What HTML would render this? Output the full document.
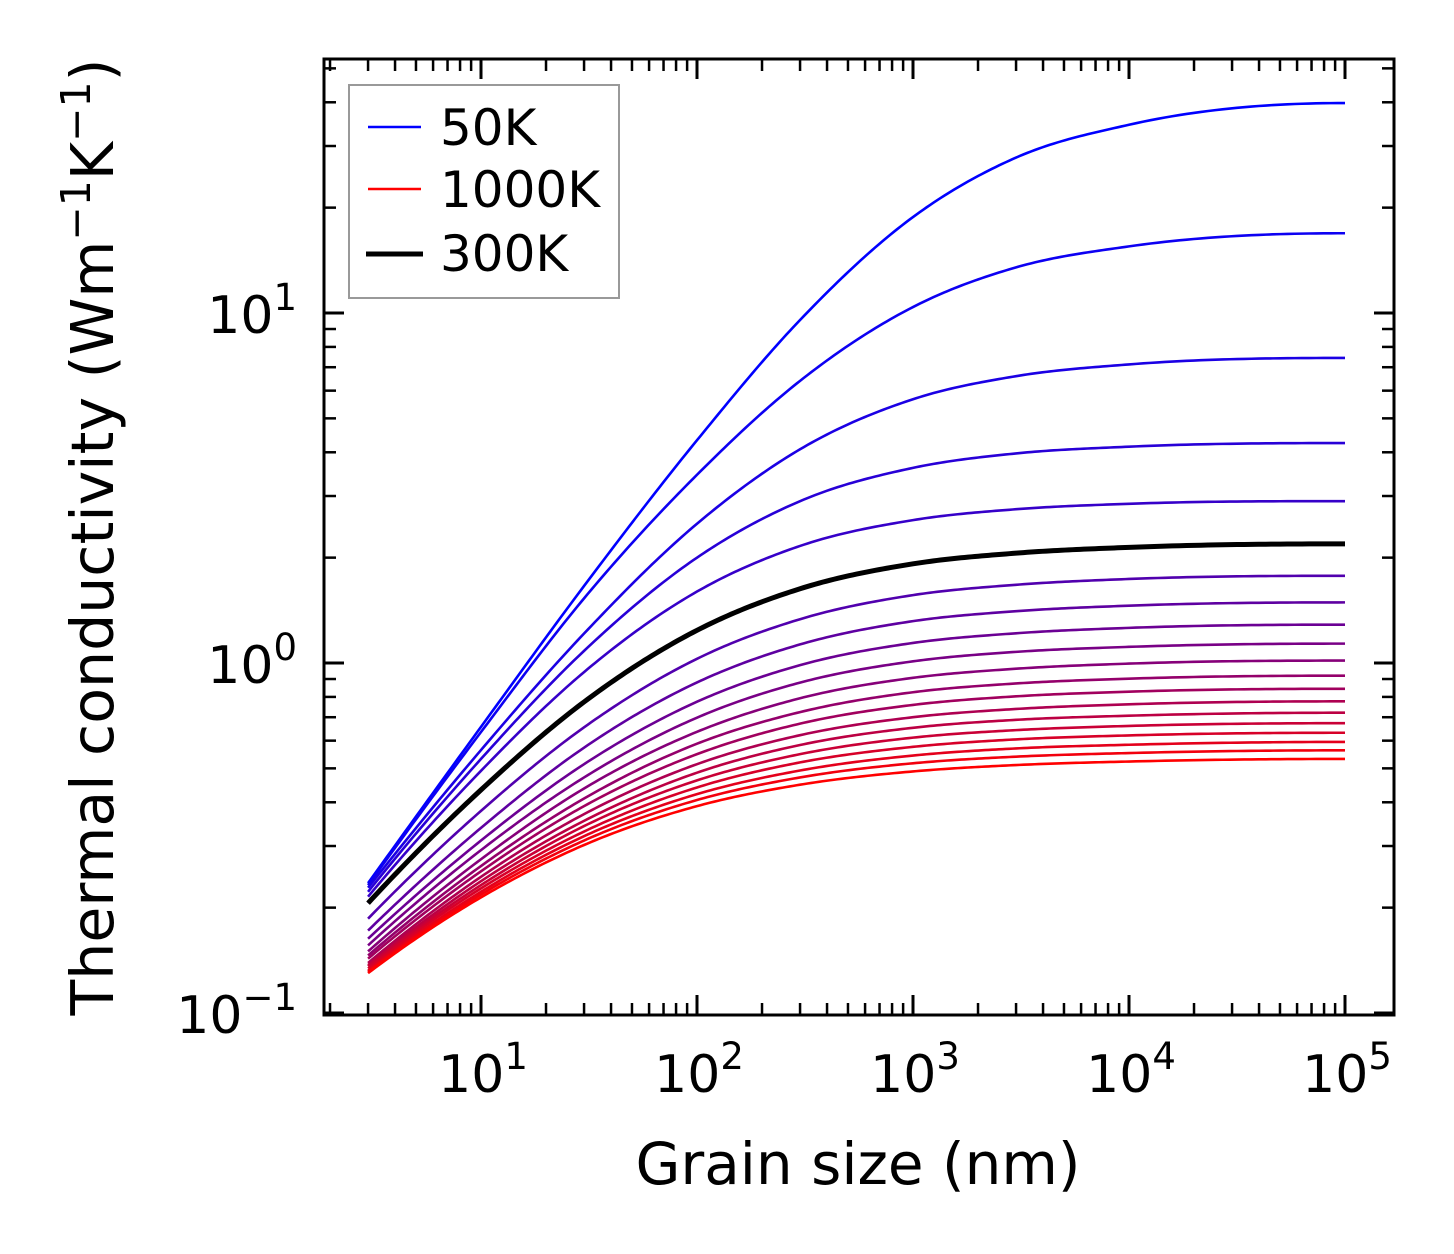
<!DOCTYPE html>
<html><head><meta charset="utf-8"><style>
html,body{margin:0;padding:0;background:#fff}
svg{display:block;font-family:"DejaVu Sans","Liberation Sans",sans-serif}
</style></head><body>
<svg id="chart" width="1454" height="1254" viewBox="0 0 1454 1254" xmlns="http://www.w3.org/2000/svg">
<rect x="0" y="0" width="1454" height="1254" fill="#fff"/>
<g id="curves"></g>
<g id="ticks"></g>
<rect x="324" y="59" width="1070" height="956" fill="none" stroke="#000" stroke-width="3"/>
<g id="labels" font-size="52" fill="#000"></g>
<text x="858" y="1184" font-size="58" text-anchor="middle">Grain size (nm)</text>
<text transform="translate(113,537) rotate(-90)" font-size="58.5" text-anchor="middle">Thermal conductivity (Wm<tspan dy="-23" font-size="41">−1</tspan><tspan dy="23">K</tspan><tspan dy="-23" font-size="41">−1</tspan><tspan dy="23">)</tspan></text>
<g>
<rect x="349" y="85" width="270" height="213" fill="#fff" stroke="#999" stroke-width="2"/>
<line x1="368" y1="127" x2="421" y2="127" stroke="#0000ff" stroke-width="2.5"/>
<text x="440" y="145" font-size="50">50K</text>
<line x1="368" y1="189" x2="421" y2="189" stroke="#ff0000" stroke-width="2.5"/>
<text x="440" y="207" font-size="50">1000K</text>
<line x1="366" y1="254" x2="423" y2="254" stroke="#000" stroke-width="5"/>
<text x="440" y="271" font-size="50">300K</text>
</g>
</svg>
<script>
// Data
const grainSizes = [3, 10, 30, 100, 300, 1000, 3000, 10000, 100000];
const temperatures = [50,100,150,200,250,300,350,400,450,500,550,600,650,700,750,800,850,900,950,1000];
const k50   = [0.235,0.657,1.66,4.33,9.55,18.8,27.8,34.5,39.8];
const k100  = [0.232,0.635,1.53,3.45,6.4,10.4,13.5,15.5,16.9];
const k150  = [0.228,0.564,1.214,2.5,4.08,5.67,6.6,7.13,7.44];
const k200  = [0.222,0.532,1.083,2.0,2.90,3.61,3.97,4.15,4.25];
const k250  = [0.215,0.492,0.942,1.60,2.16,2.56,2.75,2.85,2.90];
const k300  = [0.206,0.434,0.774,1.24,1.63,1.92,2.06,2.14,2.19];
const k350  = [0.186,0.378,0.655,1.028,1.334,1.563,1.673,1.738,1.775];
const k400  = [0.172,0.338,0.573,0.880,1.130,1.317,1.406,1.458,1.490];
const k450  = [0.163,0.311,0.514,0.775,0.986,1.141,1.216,1.260,1.287];
const k500  = [0.156,0.292,0.471,0.698,0.879,1.011,1.076,1.112,1.136];
const k550  = [0.150,0.275,0.438,0.636,0.793,0.907,0.963,0.996,1.016];
const k600  = [0.146,0.263,0.410,0.588,0.724,0.825,0.874,0.902,0.920];
const k650  = [0.143,0.254,0.390,0.549,0.671,0.759,0.803,0.828,0.844];
const k700  = [0.139,0.245,0.370,0.514,0.622,0.700,0.739,0.762,0.777];
const k750  = [0.137,0.238,0.354,0.486,0.583,0.653,0.688,0.707,0.721];
const k800  = [0.136,0.232,0.342,0.462,0.549,0.612,0.643,0.661,0.673];
const k850  = [0.134,0.227,0.330,0.441,0.520,0.576,0.605,0.621,0.632];
const k900  = [0.132,0.222,0.320,0.422,0.493,0.544,0.570,0.584,0.595];
const k950  = [0.131,0.218,0.311,0.406,0.471,0.517,0.540,0.553,0.563];
const k1000 = [0.130,0.214,0.302,0.390,0.449,0.490,0.511,0.523,0.532];
const series = [k50,k100,k150,k200,k250,k300,k350,k400,k450,k500,k550,k600,k650,k700,k750,k800,k850,k900,k950,k1000];
const highlightTemp = 300;
const xTickExps = [1,2,3,4,5];
const yTickExps = [-1,0,1];

// Axes
const X0=481, XD=216, Y0=663, YD=350;
const xPos = v => X0 + (Math.log10(v)-1)*XD;
const yPos = v => Y0 - Math.log10(v)*YD;
const NS="http://www.w3.org/2000/svg";
function mk(tag, attrs){const e=document.createElementNS(NS,tag);for(const k in attrs)e.setAttribute(k,attrs[k]);return e;}

// smooth cubic Hermite in log-log space with weighted 3-point tangents
function smoothPath(xs, ys){
  const lx=xs.map(Math.log10), ly=ys.map(Math.log10), n=lx.length;
  const d=[],h=[],m=new Array(n);
  for(let i=0;i<n-1;i++){ h.push(lx[i+1]-lx[i]); d.push((ly[i+1]-ly[i])/h[i]); }
  for(let i=1;i<n-1;i++){ m[i]=(h[i]*d[i-1]+h[i-1]*d[i])/(h[i-1]+h[i]); }
  m[0]=2*d[0]-m[1]; if(m[0]<0) m[0]=d[0];
  m[n-1]=Math.max(0,2*d[n-2]-m[n-2]);
  let p="";
  for(let i=0;i<n-1;i++){
    const hh=h[i];
    for(let j=0;j<=30;j++){
      if(i>0&&j===0) continue;
      const t=j/30,t2=t*t,t3=t2*t;
      const y=(2*t3-3*t2+1)*ly[i]+(t3-2*t2+t)*hh*m[i]+(-2*t3+3*t2)*ly[i+1]+(t3-t2)*hh*m[i+1];
      const x=lx[i]+t*hh;
      p+=(p?"L":"M")+(X0+(x-1)*XD).toFixed(2)+","+(Y0-y*YD).toFixed(2);
    }
  }
  return p;
}

const cg=document.getElementById('curves');
series.forEach((vals,i)=>{
  const f=i/(series.length-1);
  const col=`rgb(${Math.round(255*f)},0,${Math.round(255*(1-f))})`;
  const el=mk('path',{d:smoothPath(grainSizes,vals),fill:'none',stroke:col,'stroke-width':2.6});
  
  
  cg.appendChild(el);
});
const hi=temperatures.indexOf(highlightTemp);
const hl=mk('path',{d:smoothPath(grainSizes,series[hi]),fill:'none',stroke:'#000','stroke-width':5});


cg.appendChild(hl);

// ticks
const tg=document.getElementById('ticks');
const L=324,R=1394,T=59,B=1015;
function tick(x1,y1,x2,y2,w){const e=mk('line',{x1,y1,x2,y2,stroke:'#000','stroke-width':w});
  
  
  tg.appendChild(e);}
for(let e=0;e<=5;e++){for(let k=1;k<=9;k++){const x=xPos(k*Math.pow(10,e));if(x<L+2||x>R-2)continue;
  const len=k===1?20:12,w=k===1?3:2.5;tick(x,B,x,B-len,w);tick(x,T,x,T+len,w);}}
for(let e=-2;e<=1;e++){for(let k=1;k<=9;k++){const y=yPos(k*Math.pow(10,e));if(y<T+2||y>B-1)continue;
  const len=k===1?20:12,w=k===1?3:2.5;tick(L,y,L+len,y,w);tick(R,y,R-len,y,w);}}
tick(L,yPos(0.1),L+20,yPos(0.1),3);tick(R,yPos(0.1),R-20,yPos(0.1),3);

const lg=document.getElementById('labels');
xTickExps.forEach(e=>{
  const t=mk('text',{x:xPos(Math.pow(10,e))+2,y:1092,'text-anchor':'middle'});
  
  
  t.innerHTML=`10<tspan dy="-23" font-size="37">${e}</tspan>`;
  lg.appendChild(t);
});
yTickExps.forEach(e=>{
  const t=mk('text',{x:297,y:yPos(Math.pow(10,e))+20,'text-anchor':'end'});
  
  
  t.innerHTML=`10<tspan dy="-23" font-size="37">${e<0?'−'+(-e):e}</tspan>`;
  lg.appendChild(t);
});
</script>
</body></html>
